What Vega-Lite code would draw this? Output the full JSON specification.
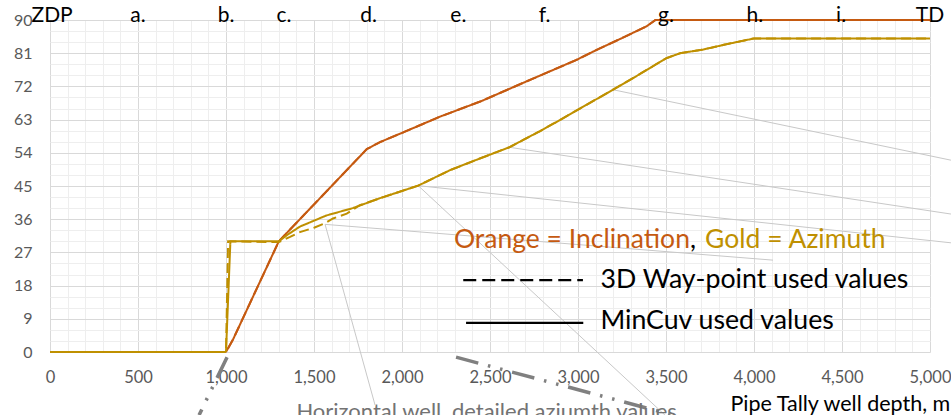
{
  "$schema": "https://vega.github.io/schema/vega-lite/v6.json",
  "width": 880,
  "height": 332,
  "autosize": {"type": "none"},
  "padding": {"left": 50, "top": 20, "right": 21, "bottom": 63},
  "background": "white",
  "config": {"view": {"stroke": null}, "font": "Lato"},
  "datasets": {
    "curves": [
      {"d": 0, "v": 0, "s": "Inclination", "k": "MinCuv"},
      {"d": 1000, "v": 0, "s": "Inclination", "k": "MinCuv"},
      {"d": 1040, "v": 3.4, "s": "Inclination", "k": "MinCuv"},
      {"d": 1300, "v": 30, "s": "Inclination", "k": "MinCuv"},
      {"d": 1800, "v": 55, "s": "Inclination", "k": "MinCuv"},
      {"d": 1875, "v": 56.9, "s": "Inclination", "k": "MinCuv"},
      {"d": 2000, "v": 59.4, "s": "Inclination", "k": "MinCuv"},
      {"d": 2216, "v": 63.8, "s": "Inclination", "k": "MinCuv"},
      {"d": 2450, "v": 68, "s": "Inclination", "k": "MinCuv"},
      {"d": 2700, "v": 73.2, "s": "Inclination", "k": "MinCuv"},
      {"d": 2992, "v": 79.2, "s": "Inclination", "k": "MinCuv"},
      {"d": 3106, "v": 81.9, "s": "Inclination", "k": "MinCuv"},
      {"d": 3250, "v": 85.1, "s": "Inclination", "k": "MinCuv"},
      {"d": 3390, "v": 88.3, "s": "Inclination", "k": "MinCuv"},
      {"d": 3440, "v": 90, "s": "Inclination", "k": "MinCuv"},
      {"d": 5000, "v": 90, "s": "Inclination", "k": "MinCuv"},
      {"d": 0, "v": 0, "s": "Inclination", "k": "Waypoint"},
      {"d": 1000, "v": 0, "s": "Inclination", "k": "Waypoint"},
      {"d": 1040, "v": 3.4, "s": "Inclination", "k": "Waypoint"},
      {"d": 1300, "v": 30, "s": "Inclination", "k": "Waypoint"},
      {"d": 1800, "v": 55, "s": "Inclination", "k": "Waypoint"},
      {"d": 1875, "v": 56.9, "s": "Inclination", "k": "Waypoint"},
      {"d": 2000, "v": 59.4, "s": "Inclination", "k": "Waypoint"},
      {"d": 2216, "v": 63.8, "s": "Inclination", "k": "Waypoint"},
      {"d": 2450, "v": 68, "s": "Inclination", "k": "Waypoint"},
      {"d": 2700, "v": 73.2, "s": "Inclination", "k": "Waypoint"},
      {"d": 2992, "v": 79.2, "s": "Inclination", "k": "Waypoint"},
      {"d": 3106, "v": 81.9, "s": "Inclination", "k": "Waypoint"},
      {"d": 3250, "v": 85.1, "s": "Inclination", "k": "Waypoint"},
      {"d": 3390, "v": 88.3, "s": "Inclination", "k": "Waypoint"},
      {"d": 3440, "v": 90, "s": "Inclination", "k": "Waypoint"},
      {"d": 5000, "v": 90, "s": "Inclination", "k": "Waypoint"},
      {"d": 0, "v": 0, "s": "Azimuth", "k": "MinCuv"},
      {"d": 1000, "v": 0, "s": "Azimuth", "k": "MinCuv"},
      {"d": 1025, "v": 30, "s": "Azimuth", "k": "MinCuv"},
      {"d": 1300, "v": 30, "s": "Azimuth", "k": "MinCuv"},
      {"d": 1350, "v": 31.8, "s": "Azimuth", "k": "MinCuv"},
      {"d": 1420, "v": 34, "s": "Azimuth", "k": "MinCuv"},
      {"d": 1500, "v": 35.6, "s": "Azimuth", "k": "MinCuv"},
      {"d": 1570, "v": 37, "s": "Azimuth", "k": "MinCuv"},
      {"d": 1720, "v": 39, "s": "Azimuth", "k": "MinCuv"},
      {"d": 1875, "v": 41.7, "s": "Azimuth", "k": "MinCuv"},
      {"d": 2092, "v": 45.1, "s": "Azimuth", "k": "MinCuv"},
      {"d": 2273, "v": 49.3, "s": "Azimuth", "k": "MinCuv"},
      {"d": 2450, "v": 52.6, "s": "Azimuth", "k": "MinCuv"},
      {"d": 2610, "v": 55.5, "s": "Azimuth", "k": "MinCuv"},
      {"d": 2785, "v": 59.9, "s": "Azimuth", "k": "MinCuv"},
      {"d": 2909, "v": 63.2, "s": "Azimuth", "k": "MinCuv"},
      {"d": 3011, "v": 66.0, "s": "Azimuth", "k": "MinCuv"},
      {"d": 3199, "v": 71.1, "s": "Azimuth", "k": "MinCuv"},
      {"d": 3350, "v": 75.3, "s": "Azimuth", "k": "MinCuv"},
      {"d": 3500, "v": 79.6, "s": "Azimuth", "k": "MinCuv"},
      {"d": 3580, "v": 81, "s": "Azimuth", "k": "MinCuv"},
      {"d": 3712, "v": 82, "s": "Azimuth", "k": "MinCuv"},
      {"d": 3850, "v": 83.5, "s": "Azimuth", "k": "MinCuv"},
      {"d": 4000, "v": 85, "s": "Azimuth", "k": "MinCuv"},
      {"d": 5000, "v": 85, "s": "Azimuth", "k": "MinCuv"},
      {"d": 0, "v": 0, "s": "Azimuth", "k": "Waypoint"},
      {"d": 1000, "v": 0, "s": "Azimuth", "k": "Waypoint"},
      {"d": 1012, "v": 30, "s": "Azimuth", "k": "Waypoint"},
      {"d": 1300, "v": 29.8, "s": "Azimuth", "k": "Waypoint"},
      {"d": 1364, "v": 31.2, "s": "Azimuth", "k": "Waypoint"},
      {"d": 1420, "v": 32.5, "s": "Azimuth", "k": "Waypoint"},
      {"d": 1500, "v": 33.7, "s": "Azimuth", "k": "Waypoint"},
      {"d": 1562, "v": 34.9, "s": "Azimuth", "k": "Waypoint"},
      {"d": 1608, "v": 36.2, "s": "Azimuth", "k": "Waypoint"},
      {"d": 1686, "v": 37.5, "s": "Azimuth", "k": "Waypoint"},
      {"d": 1760, "v": 39.8, "s": "Azimuth", "k": "Waypoint"},
      {"d": 1875, "v": 41.7, "s": "Azimuth", "k": "Waypoint"},
      {"d": 2092, "v": 45.1, "s": "Azimuth", "k": "Waypoint"},
      {"d": 2273, "v": 49.3, "s": "Azimuth", "k": "Waypoint"},
      {"d": 2450, "v": 52.6, "s": "Azimuth", "k": "Waypoint"},
      {"d": 2610, "v": 55.5, "s": "Azimuth", "k": "Waypoint"},
      {"d": 2785, "v": 59.9, "s": "Azimuth", "k": "Waypoint"},
      {"d": 2909, "v": 63.2, "s": "Azimuth", "k": "Waypoint"},
      {"d": 3011, "v": 66.0, "s": "Azimuth", "k": "Waypoint"},
      {"d": 3199, "v": 71.1, "s": "Azimuth", "k": "Waypoint"},
      {"d": 3350, "v": 75.3, "s": "Azimuth", "k": "Waypoint"},
      {"d": 3500, "v": 79.6, "s": "Azimuth", "k": "Waypoint"},
      {"d": 3580, "v": 81, "s": "Azimuth", "k": "Waypoint"},
      {"d": 3712, "v": 82, "s": "Azimuth", "k": "Waypoint"},
      {"d": 3850, "v": 83.5, "s": "Azimuth", "k": "Waypoint"},
      {"d": 4000, "v": 85, "s": "Azimuth", "k": "Waypoint"},
      {"d": 5000, "v": 85, "s": "Azimuth", "k": "Waypoint"}
    ],
    "leaders": [
      {"x1": 3199, "y1": 71.1, "x2": 5119, "y2": 52.0},
      {"x1": 2610, "y1": 55.5, "x2": 5119, "y2": 37.4},
      {"x1": 2092, "y1": 45.1, "x2": 5119, "y2": 29.6},
      {"x1": 2092, "y1": 45.1, "x2": 3494, "y2": -17.1},
      {"x1": 1563, "y1": 34.6, "x2": 4108, "y2": 24.9},
      {"x1": 1563, "y1": 34.6, "x2": 1847, "y2": -14.4}
    ],
    "callouts": [
      {"x1": 2307, "y1": -1.4, "x2": 3580, "y2": -17.6},
      {"x1": 1006, "y1": -1.4, "x2": 847, "y2": -17.1}
    ],
    "keyDashed": [{"x1": 2348, "x2": 3028, "y": 19.5}],
    "keySolid": [{"x1": 2364, "x2": 3030, "y": 7.9}],
    "tops": [
      {"d": 12, "v": 90, "t": "ZDP"},
      {"d": 500, "v": 90, "t": "a."},
      {"d": 1000, "v": 90, "t": "b."},
      {"d": 1330, "v": 90, "t": "c."},
      {"d": 1810, "v": 90, "t": "d."},
      {"d": 2320, "v": 90, "t": "e."},
      {"d": 2810, "v": 90, "t": "f."},
      {"d": 3500, "v": 90, "t": "g."},
      {"d": 4005, "v": 90, "t": "h."},
      {"d": 4495, "v": 90, "t": "i."},
      {"d": 5000, "v": 90, "t": "TD"}
    ],
    "keyOrange": [{"d": 3636, "v": 28.1, "t": "Orange = Inclination"}],
    "keyComma": [{"d": 3636, "v": 28.1, "t": ","}],
    "keyGold": [{"d": 3722, "v": 28.1, "t": "Gold = Azimuth"}],
    "keyText": [
      {"d": 3128, "v": 17.3, "t": "3D Way-point used values"},
      {"d": 3128, "v": 6.15, "t": "MinCuv used values"}
    ],
    "note": [{"d": 2481, "v": -18.2, "t": "Horizontal well, detailed aziumth values"}]
  },
  "resolve": {"axis": {"x": "independent", "y": "independent"}},
  "layer": [
    {
      "data": {"name": "leaders"},
      "mark": {"type": "rule", "stroke": "#c8c8c8", "strokeWidth": 1},
      "encoding": {
        "x": {"field": "x1", "type": "quantitative", "scale": {"domain": [0, 5000], "nice": false},
          "axis": {"orient": "bottom", "values": [100,200,300,400,600,700,800,900,1100,1200,1300,1400,1600,1700,1800,1900,2100,2200,2300,2400,2600,2700,2800,2900,3100,3200,3300,3400,3600,3700,3800,3900,4100,4200,4300,4400,4600,4700,4800,4900],
            "grid": true, "gridColor": "#eeeeee", "gridWidth": 1, "labels": false, "ticks": false, "domain": false, "title": null}},
        "y": {"field": "y1", "type": "quantitative", "scale": {"domain": [0, 90], "nice": false},
          "axis": {"orient": "left", "values": [3,6,12,15,21,24,30,33,39,42,48,51,57,60,66,69,75,78,84,87],
            "grid": true, "gridColor": "#eeeeee", "gridWidth": 1, "labels": false, "ticks": false, "domain": false, "title": null}},
        "x2": {"field": "x2"},
        "y2": {"field": "y2"}
      }
    },
    {
      "data": {"name": "callouts"},
      "mark": {"type": "rule", "stroke": "#808080", "strokeWidth": 3.5, "strokeDash": [23, 10, 2.5, 10, 2.5, 10]},
      "encoding": {
        "x": {"field": "x1", "type": "quantitative", "scale": {"domain": [0, 5000], "nice": false}, "axis": null},
        "y": {"field": "y1", "type": "quantitative", "scale": {"domain": [0, 90], "nice": false}, "axis": null},
        "x2": {"field": "x2"},
        "y2": {"field": "y2"}
      }
    },
    {
      "data": {"name": "curves"},
      "mark": {"type": "line", "strokeWidth": 2},
      "encoding": {
        "x": {"field": "d", "type": "quantitative", "scale": {"domain": [0, 5000], "nice": false},
          "axis": {"orient": "bottom", "values": [0,500,1000,1500,2000,2500,3000,3500,4000,4500,5000], "format": ",.0f",
            "grid": true, "gridColor": "#d9d9d9", "gridWidth": 1, "ticks": false, "tickSize": 0, "domain": false,
            "labelFont": "Lato", "labelFontSize": 16.5, "labelColor": "#595959", "labelPadding": 17, "labelFlush": false, "labelOverlap": false,
            "title": "Pipe Tally well depth, m", "titleX": 680, "titleY": 58, "titleAlign": "left", "titleAnchor": "start", "titleBaseline": "alphabetic",
            "titleFont": "Lato", "titleFontSize": 21.5, "titleFontWeight": "normal", "titleColor": "#000000"}},
        "y": {"field": "v", "type": "quantitative", "scale": {"domain": [0, 90], "nice": false},
          "axis": {"orient": "left", "values": [0,9,18,27,36,45,54,63,72,81,90], "format": ".0f",
            "grid": true, "gridColor": "#d9d9d9", "gridWidth": 1, "ticks": false, "tickSize": 0, "domain": false,
            "labelFont": "Lato", "labelFontSize": 16, "labelColor": "#595959", "labelPadding": 18, "labelFlush": false, "labelOverlap": false,
            "title": null}},
        "color": {"field": "s", "type": "nominal", "scale": {"domain": ["Inclination", "Azimuth"], "range": ["#C55A11", "#BF9000"]}, "legend": null},
        "strokeDash": {"field": "k", "type": "nominal", "scale": {"domain": ["MinCuv", "Waypoint"], "range": [[1, 0], [10, 5]]}, "legend": null}
      }
    },
    {
      "data": {"name": "keyDashed"},
      "mark": {"type": "rule", "stroke": "#000000", "strokeWidth": 2.3, "strokeDash": [13, 6]},
      "encoding": {
        "x": {"field": "x1", "type": "quantitative", "scale": {"domain": [0, 5000], "nice": false}, "axis": null},
        "x2": {"field": "x2"},
        "y": {"field": "y", "type": "quantitative", "scale": {"domain": [0, 90], "nice": false}, "axis": null}
      }
    },
    {
      "data": {"name": "keySolid"},
      "mark": {"type": "rule", "stroke": "#000000", "strokeWidth": 2.3},
      "encoding": {
        "x": {"field": "x1", "type": "quantitative", "scale": {"domain": [0, 5000], "nice": false}, "axis": null},
        "x2": {"field": "x2"},
        "y": {"field": "y", "type": "quantitative", "scale": {"domain": [0, 90], "nice": false}, "axis": null}
      }
    },
    {
      "data": {"name": "tops"},
      "mark": {"type": "text", "font": "Lato", "fontSize": 21, "color": "#000000", "align": "center", "baseline": "alphabetic", "dy": 2},
      "encoding": {
        "x": {"field": "d", "type": "quantitative", "scale": {"domain": [0, 5000], "nice": false}, "axis": null},
        "y": {"field": "v", "type": "quantitative", "scale": {"domain": [0, 90], "nice": false}, "axis": null},
        "text": {"field": "t"}
      }
    },
    {
      "data": {"name": "keyOrange"},
      "mark": {"type": "text", "font": "Lato", "fontSize": 26.5, "color": "#C55A11", "align": "right", "baseline": "alphabetic"},
      "encoding": {
        "x": {"field": "d", "type": "quantitative", "scale": {"domain": [0, 5000], "nice": false}, "axis": null},
        "y": {"field": "v", "type": "quantitative", "scale": {"domain": [0, 90], "nice": false}, "axis": null},
        "text": {"field": "t"}
      }
    },
    {
      "data": {"name": "keyComma"},
      "mark": {"type": "text", "font": "Lato", "fontSize": 26.5, "color": "#000000", "align": "left", "baseline": "alphabetic"},
      "encoding": {
        "x": {"field": "d", "type": "quantitative", "scale": {"domain": [0, 5000], "nice": false}, "axis": null},
        "y": {"field": "v", "type": "quantitative", "scale": {"domain": [0, 90], "nice": false}, "axis": null},
        "text": {"field": "t"}
      }
    },
    {
      "data": {"name": "keyGold"},
      "mark": {"type": "text", "font": "Lato", "fontSize": 26.5, "color": "#BF9000", "align": "left", "baseline": "alphabetic"},
      "encoding": {
        "x": {"field": "d", "type": "quantitative", "scale": {"domain": [0, 5000], "nice": false}, "axis": null},
        "y": {"field": "v", "type": "quantitative", "scale": {"domain": [0, 90], "nice": false}, "axis": null},
        "text": {"field": "t"}
      }
    },
    {
      "data": {"name": "keyText"},
      "mark": {"type": "text", "font": "Lato", "fontSize": 26.7, "color": "#000000", "align": "left", "baseline": "alphabetic"},
      "encoding": {
        "x": {"field": "d", "type": "quantitative", "scale": {"domain": [0, 5000], "nice": false}, "axis": null},
        "y": {"field": "v", "type": "quantitative", "scale": {"domain": [0, 90], "nice": false}, "axis": null},
        "text": {"field": "t"}
      }
    },
    {
      "data": {"name": "note"},
      "mark": {"type": "text", "font": "Lato", "fontSize": 22, "color": "#737373", "align": "center", "baseline": "alphabetic"},
      "encoding": {
        "x": {"field": "d", "type": "quantitative", "scale": {"domain": [0, 5000], "nice": false}, "axis": null},
        "y": {"field": "v", "type": "quantitative", "scale": {"domain": [0, 90], "nice": false}, "axis": null},
        "text": {"field": "t"}
      }
    }
  ]
}
